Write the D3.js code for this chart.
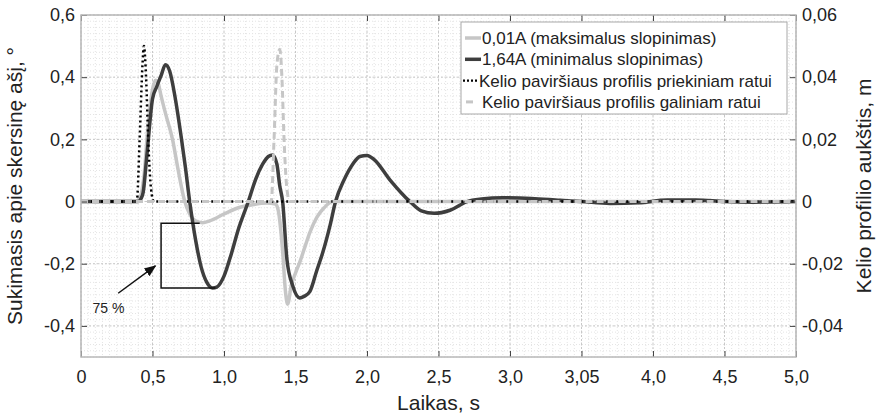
<!DOCTYPE html>
<html>
<head>
<meta charset="utf-8">
<script src="https://cdnjs.cloudflare.com/ajax/libs/d3/7.8.5/d3.min.js"></script>
<style>
  body { margin: 0; background: #fff; }
  svg { display: block; font-family: "Liberation Sans", Arial, sans-serif; }
</style>
</head>
<body>
<svg></svg>
<script>
const svgWidth = 877
const svgHeight = 414
const margins = { top: 15, bottom: 57, left: 81, right: 81 }
const plotWidth = svgWidth - margins.left - margins.right
const plotHeight = svgHeight - margins.top - margins.bottom

// ---- data ----
// 0,01A (max damping), left axis (deg)
const lightT = [0, 0.38, 0.41, 0.44, 0.47, 0.50, 0.52, 0.54, 0.56, 0.59, 0.64, 0.68, 0.72, 0.76, 0.80, 0.85, 0.90, 1.0, 1.1, 1.2, 1.3, 1.36, 1.38, 1.41, 1.43, 1.445, 1.47, 1.50, 1.53, 1.57, 1.60, 1.65, 1.70, 1.76, 2.0, 3.0, 4.0, 5.0]
const lightV = [0, 0, 0.01, 0.08, 0.25, 0.36, 0.39, 0.38, 0.34, 0.285, 0.20, 0.10, 0.01, -0.04, -0.062, -0.068, -0.062, -0.04, -0.02, -0.01, -0.005, -0.008, -0.03, -0.16, -0.29, -0.33, -0.27, -0.23, -0.195, -0.14, -0.10, -0.05, -0.02, 0, 0, 0, 0, 0]

// 1,64A (min damping), left axis (deg)
const darkT = [0, 0.38, 0.40, 0.42, 0.435, 0.46, 0.50, 0.53, 0.56, 0.59, 0.62, 0.66, 0.70, 0.73, 0.76, 0.80, 0.84, 0.88, 0.92, 0.95, 1.0, 1.05, 1.10, 1.17, 1.22, 1.27, 1.31, 1.34, 1.37, 1.39, 1.41, 1.44, 1.48, 1.53, 1.56, 1.60, 1.65, 1.69, 1.74, 1.78, 1.84, 1.90, 1.95, 2.0, 2.05, 2.16, 2.30, 2.38, 2.47, 2.58, 2.70, 2.80, 2.95, 3.15, 3.35, 3.5, 3.7, 3.9, 4.1, 4.3, 4.5, 4.7, 5.0]
const darkV = [0, 0, 0, 0.01, 0.03, 0.145, 0.33, 0.37, 0.405, 0.44, 0.42, 0.33, 0.21, 0.11, 0, -0.12, -0.21, -0.26, -0.278, -0.275, -0.24, -0.17, -0.09, 0, 0.07, 0.12, 0.145, 0.15, 0.12, 0.05, 0, -0.186, -0.27, -0.31, -0.305, -0.29, -0.22, -0.165, -0.08, 0, 0.07, 0.12, 0.145, 0.148, 0.135, 0.07, 0.0, -0.03, -0.038, -0.028, 0, 0.008, 0.012, 0.01, 0.004, 0, -0.006, -0.004, 0.005, 0.005, 0, -0.002, 0]

// road profile, front wheel, right axis (m)
const frontT = [0, 0.39, 0.41, 0.43, 0.44, 0.455, 0.47, 0.49, 0.51, 5.0]
const frontV = [0, 0, 0.02, 0.044, 0.05, 0.04, 0.02, 0.004, 0, 0]

// road profile, rear wheel, right axis (m)
const rearT = [0, 1.33, 1.35, 1.37, 1.39, 1.405, 1.42, 1.44, 1.46, 5.0]
const rearV = [0, 0, 0.02, 0.044, 0.049, 0.04, 0.02, 0.004, 0, 0]

const xTicks = [0, 0.5, 1, 1.5, 2, 2.5, 3, 3.5, 4, 4.5, 5]
const xTickLabels = ["0", "0,5", "1,0", "1,5", "2,0", "2,5", "3,0", "3,05", "4,0", "4,5", "5,0"]
const yLeftTicks = [-0.4, -0.2, 0, 0.2, 0.4, 0.6]
const yLeftLabels = ["-0,4", "-0,2", "0", "0,2", "0,4", "0,6"]
const yRightTicks = [-0.04, -0.02, 0, 0.02, 0.04, 0.06]
const yRightLabels = ["-0,04", "-0,02", "0", "0,02", "0,04", "0,06"]

const legendLabels = [
  "0,01A (maksimalus slopinimas)",
  "1,64A (minimalus slopinimas)",
  "Kelio paviršiaus profilis priekiniam ratui",
  "Kelio paviršiaus profilis galiniam ratui"
]

// ---- chart ----
const svg = d3.select("svg")
  .attr("width", svgWidth)
  .attr("height", svgHeight)

const xScale = d3.scaleLinear().domain([0, 5]).range([margins.left, margins.left + plotWidth])
const yLeft = d3.scaleLinear().domain([-0.5, 0.6]).range([margins.top + plotHeight, margins.top])
const yRight = d3.scaleLinear().domain([-0.05, 0.06]).range([margins.top + plotHeight, margins.top])

// grid
const minorX = d3.range(0, 5.0001, 0.05)
const minorY = d3.range(-0.5, 0.6001, 0.02)
const grid = svg.append("g")
grid.selectAll(".minx").data(minorX).join("line")
  .attr("x1", d => xScale(d)).attr("x2", d => xScale(d))
  .attr("y1", margins.top).attr("y2", margins.top + plotHeight)
  .attr("stroke", "#e4e4e4").attr("stroke-dasharray", "1,2")
grid.selectAll(".miny").data(minorY).join("line")
  .attr("y1", d => yLeft(d)).attr("y2", d => yLeft(d))
  .attr("x1", margins.left).attr("x2", margins.left + plotWidth)
  .attr("stroke", "#e4e4e4").attr("stroke-dasharray", "1,2")
grid.selectAll(".majx").data(xTicks).join("line")
  .attr("x1", d => xScale(d)).attr("x2", d => xScale(d))
  .attr("y1", margins.top).attr("y2", margins.top + plotHeight)
  .attr("stroke", "#c8c8c8").attr("stroke-dasharray", "2,2")
grid.selectAll(".majy").data(yLeftTicks).join("line")
  .attr("y1", d => yLeft(d)).attr("y2", d => yLeft(d))
  .attr("x1", margins.left).attr("x2", margins.left + plotWidth)
  .attr("stroke", "#c8c8c8").attr("stroke-dasharray", "2,2")

// series
const lineL = d3.line().x(d => xScale(d[0])).y(d => yLeft(d[1])).curve(d3.curveMonotoneX)
const lineR = d3.line().x(d => xScale(d[0])).y(d => yRight(d[1])).curve(d3.curveMonotoneX)
const zip = (a, b) => a.map((t, i) => [t, b[i]])

svg.append("path").datum(zip(lightT, lightV)).attr("d", lineL)
  .attr("fill", "none").attr("stroke", "#c6c6c6").attr("stroke-width", 3.5)
svg.append("path").datum(zip(darkT, darkV)).attr("d", lineL)
  .attr("fill", "none").attr("stroke", "#3e3e3e").attr("stroke-width", 3.5)
svg.append("path").datum(zip(frontT, frontV)).attr("d", lineR)
  .attr("fill", "none").attr("stroke", "#000").attr("stroke-width", 2.5).attr("stroke-dasharray", "2,3")
svg.append("path").datum(zip(rearT, rearV)).attr("d", lineR)
  .attr("fill", "none").attr("stroke", "#c6c6c6").attr("stroke-width", 3).attr("stroke-dasharray", "7,4")

// axes
const fmtX = (d, i) => xTickLabels[i]
svg.append("g")
  .attr("transform", `translate(0,${margins.top + plotHeight})`)
  .call(d3.axisBottom(xScale).tickValues(xTicks).tickFormat(fmtX).tickSizeInner(-6).tickSizeOuter(0).tickPadding(13))
svg.append("g")
  .attr("transform", `translate(0,${margins.top})`)
  .call(d3.axisTop(xScale).tickValues(xTicks).tickFormat("").tickSizeInner(-6).tickSizeOuter(0))
svg.append("g")
  .attr("transform", `translate(${margins.left},0)`)
  .call(d3.axisLeft(yLeft).tickValues(yLeftTicks).tickFormat((d, i) => yLeftLabels[i]).tickSizeInner(-6).tickSizeOuter(0).tickPadding(6))
svg.append("g")
  .attr("transform", `translate(${margins.left + plotWidth},0)`)
  .call(d3.axisRight(yRight).tickValues(yRightTicks).tickFormat((d, i) => yRightLabels[i]).tickSizeInner(-6).tickSizeOuter(0).tickPadding(6))

svg.selectAll(".domain").remove()
svg.selectAll(".tick line").attr("stroke", "#444")
svg.selectAll(".tick text").attr("font-size", 18).attr("fill", "#222")
  .attr("font-family", "'Liberation Sans', Arial, sans-serif")

svg.append("rect")
  .attr("x", margins.left).attr("y", margins.top)
  .attr("width", plotWidth).attr("height", plotHeight)
  .attr("fill", "none").attr("stroke", "#b8b8b8").attr("stroke-width", 1.5)

// axis titles
svg.append("text").text("Laikas, s")
  .attr("x", margins.left + plotWidth / 2).attr("y", 410)
  .attr("text-anchor", "middle").attr("font-size", 21).attr("fill", "#222")
svg.append("text").text("Sukimasis apie skersinę ašį, °")
  .attr("transform", `translate(22,${margins.top + plotHeight / 2}) rotate(-90)`)
  .attr("text-anchor", "middle").attr("font-size", 21).attr("fill", "#222")
svg.append("text").text("Kelio profilio aukštis, m")
  .attr("transform", `translate(871,${margins.top + plotHeight / 2}) rotate(-90)`)
  .attr("text-anchor", "middle").attr("font-size", 21).attr("fill", "#222")

// legend
const legend = svg.append("g")
legend.append("rect")
  .attr("x", 461).attr("y", 22).attr("width", 326).attr("height", 92)
  .attr("fill", "#fff").attr("stroke", "#a8a8a8").attr("stroke-width", 1)
const legendStyles = [
  { stroke: "#c6c6c6", width: 3.5, dash: null, x1: 465, x2: 481 },
  { stroke: "#3e3e3e", width: 3.5, dash: null, x1: 465, x2: 481 },
  { stroke: "#000", width: 2.2, dash: "2,2", x1: 463, x2: 478 },
  { stroke: "#c6c6c6", width: 3, dash: "7,4", x1: 466, x2: 473 }
]
legendLabels.forEach((label, i) => {
  const cy = 38 + i * 21.3
  const s = legendStyles[i]
  legend.append("line")
    .attr("x1", s.x1).attr("x2", s.x2).attr("y1", cy).attr("y2", cy)
    .attr("stroke", s.stroke).attr("stroke-width", s.width)
    .attr("stroke-dasharray", s.dash)
  legend.append("text").text(label)
    .attr("x", i === 2 ? 479 : 482).attr("y", cy).attr("dy", "0.35em")
    .attr("font-size", 17).attr("fill", "#222")
})

// annotation (75 %)
const ann = svg.append("g").attr("stroke", "#111").attr("stroke-width", 1.5).attr("fill", "none")
ann.append("path").attr("d", d3.line()([
  [xScale(0.83), yLeft(-0.07)], [xScale(0.56), yLeft(-0.07)],
  [xScale(0.56), yLeft(-0.278)], [xScale(0.94), yLeft(-0.278)]
]))
svg.append("defs").append("marker")
  .attr("id", "arrow").attr("viewBox", "0 0 10 10").attr("refX", 9).attr("refY", 5)
  .attr("markerWidth", 8).attr("markerHeight", 8).attr("orient", "auto")
  .append("path").attr("d", "M0,1 L10,5 L0,9 Z").attr("fill", "#111")
ann.append("line")
  .attr("x1", xScale(0.26)).attr("y1", yLeft(-0.295))
  .attr("x2", xScale(0.52)).attr("y2", yLeft(-0.207))
  .attr("marker-end", "url(#arrow)")
svg.append("text").text("75 %")
  .attr("x", xScale(0.08)).attr("y", 313)
  .attr("font-size", 14).attr("fill", "#222")
</script>
</body>
</html>
